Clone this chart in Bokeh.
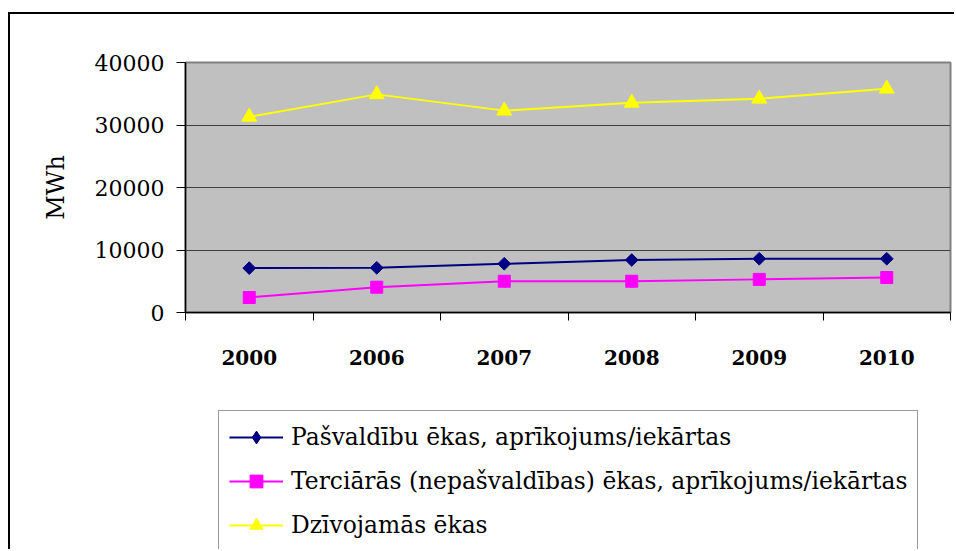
import numpy as np
from bokeh.plotting import figure
from bokeh.layouts import column
from bokeh.models import Range1d, FixedTicker, Legend, LegendItem, NumeralTickFormatter
from bokeh.embed import file_html
from bokeh.resources import INLINE

# ---- data ----
years = ["2000", "2006", "2007", "2008", "2009", "2010"]
pasvaldibu = [7100, 7150, 7800, 8400, 8600, 8600]
terciaras = [2400, 4050, 5000, 5000, 5300, 5600]
dzivojamas = [31300, 34900, 32300, 33550, 34200, 35800]
y_ticks = [0, 10000, 20000, 30000, 40000]
series_labels = [
    "Pašvaldību ēkas, aprīkojums/iekārtas",
    "Terciārās (nepašvaldības) ēkas, aprīkojums/iekārtas",
    "Dzīvojamās ēkas",
]
y_label = "MWh"

FONT = "DejaVu Serif"
x = np.arange(len(years)) + 0.5

W = 944
H1, H2 = 386, 149

p = figure(width=W, height=H1, output_backend="svg", toolbar_location=None,
           x_range=Range1d(0, len(years)), y_range=Range1d(0, 40000),
           min_border_left=175, min_border_right=4, min_border_top=48,
           min_border_bottom=88)

p.background_fill_color = "#C0C0C0"
p.border_fill_color = "white"
p.outline_line_color = "#808080"
p.outline_line_width = 2

# x axis
p.xaxis.ticker = FixedTicker(ticks=list(x), minor_ticks=list(range(len(years) + 1)))
p.xaxis.major_label_overrides = {float(xi): yr for xi, yr in zip(x, years)}
p.xaxis.major_tick_out = 0
p.xaxis.major_tick_in = 0
p.xaxis.minor_tick_out = 8
p.xaxis.minor_tick_in = 0
p.xaxis.minor_tick_line_color = "black"
p.xaxis.axis_line_color = "black"
p.xaxis.axis_line_width = 1.5
p.xaxis.major_label_text_font = FONT
p.xaxis.major_label_text_font_size = "20px"
p.xaxis.major_label_text_font_style = "bold"
p.xaxis.major_label_text_color = "black"
p.xaxis.major_label_standoff = 29
p.xgrid.visible = False

# y axis
p.yaxis.ticker = FixedTicker(ticks=y_ticks)
p.yaxis.formatter = NumeralTickFormatter(format="0")
p.yaxis.major_tick_out = 9
p.yaxis.major_tick_in = 0
p.yaxis.minor_tick_line_color = None
p.yaxis.major_tick_line_color = "black"
p.yaxis.axis_line_color = "black"
p.yaxis.axis_line_width = 1.5
p.yaxis.major_label_text_font = FONT
p.yaxis.major_label_text_font_size = "22px"
p.yaxis.major_label_text_color = "black"
p.yaxis.major_label_standoff = 12
p.yaxis.axis_label = y_label
p.yaxis.axis_label_text_font = FONT
p.yaxis.axis_label_text_font_size = "24px"
p.yaxis.axis_label_text_font_style = "normal"
p.yaxis.axis_label_text_color = "black"
p.yaxis.axis_label_standoff = 22
p.ygrid.ticker = FixedTicker(ticks=y_ticks)
p.ygrid.grid_line_color = "#404040"
p.ygrid.grid_line_width = 1

# series
C1, C2, C3 = "#000080", "#FF00FF", "#FFFF00"
p.line(x, pasvaldibu, line_color=C1, line_width=2)
p.scatter(x, pasvaldibu, marker="square", angle=np.pi / 4, size=9,
          fill_color=C1, line_color=C1)
p.line(x, terciaras, line_color=C2, line_width=2)
p.scatter(x, terciaras, marker="square", size=12, fill_color=C2, line_color=C2)
p.line(x, dzivojamas, line_color=C3, line_width=2)
p.scatter(x, dzivojamas, marker="triangle", size=15, fill_color=C3, line_color=C3)

# ---- legend panel (separate figure below the chart; its series lie outside its range) ----
q = figure(width=W, height=H2, output_backend="svg", toolbar_location=None,
           x_range=Range1d(0, 1), y_range=Range1d(0, 1),
           x_axis_type=None, y_axis_type=None, min_border=0)
q.outline_line_color = None
q.background_fill_color = "white"
q.border_fill_color = "white"
q.xgrid.visible = False
q.ygrid.visible = False

g1 = q.line(x, pasvaldibu, line_color=C1, line_width=2)
m1 = q.scatter(x, pasvaldibu, marker="diamond", fill_color=C1, line_color=C1)
g2 = q.line(x, terciaras, line_color=C2, line_width=2)
m2 = q.scatter(x, terciaras, marker="square", fill_color=C2, line_color=C2)
g3 = q.line(x, dzivojamas, line_color=C3, line_width=2)
m3 = q.scatter(x, dzivojamas, marker="triangle", fill_color=C3, line_color=C3)

LEG_H = 140
legend = Legend(items=[
    LegendItem(label=series_labels[0], renderers=[g1, m1]),
    LegendItem(label=series_labels[1], renderers=[g2, m2]),
    LegendItem(label=series_labels[2], renderers=[g3, m3]),
], location=(33, H2 - 12 - LEG_H))
legend.label_text_font = "'DejaVu Serif'"
legend.label_text_font_size = "23.4px"
legend.label_text_color = "black"
legend.glyph_width = 54
legend.glyph_height = 32
legend.label_height = 32
legend.label_standoff = 8
legend.spacing = 12
legend.padding = 10
legend.margin = 0
legend.border_line_color = "#333333"
legend.border_line_width = 1
legend.background_fill_color = "white"
legend.background_fill_alpha = 1
q.add_layout(legend, "center")

layout = column(p, q, spacing=0)
layout.styles = {"border-left": "2px solid black", "border-top": "2px solid black",
                 "margin-top": "12px", "margin-left": "8px"}

open("out.html", "w").write(file_html(layout, INLINE))
